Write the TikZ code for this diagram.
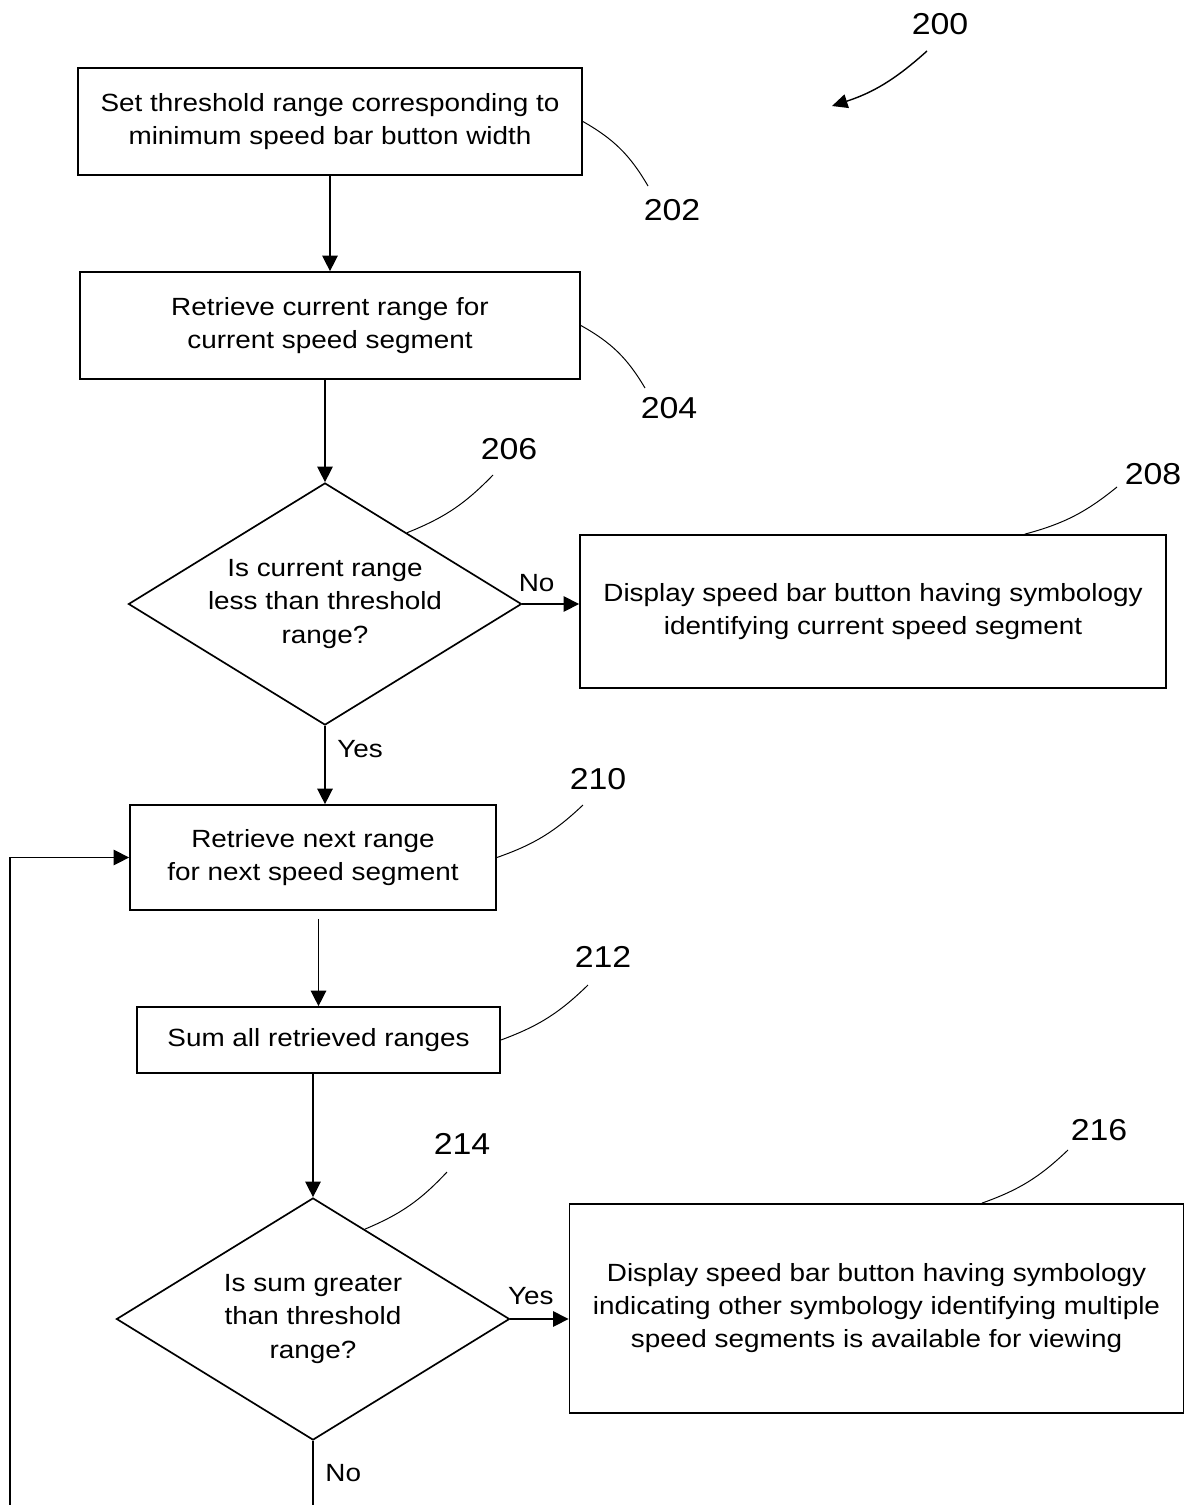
\documentclass[tikz,border=0pt]{standalone}
\usepackage{fontspec}
\setmainfont{Liberation Sans}[FakeStretch=1.12]
\usetikzlibrary{shapes.geometric,arrows.meta}

\begin{document}
\begin{tikzpicture}[%
          x=0.025cm, y=-0.025cm,
          every node/.style={font=\fontsize{17.7}{23.5}\selectfont},
          stepbox/.style={draw, line width=1.2pt, align=center, inner sep=0pt},
          decision/.style={draw, diamond, line width=1.2pt, align=center, inner sep=0pt,
            aspect=1.62, minimum width=9.825cm, minimum height=6.05cm},
          refnum/.style={font=\fontsize{21.5}{21.5}\selectfont},
          flow/.style={line width=1pt, -{Triangle[length=11pt,width=11pt]}},
          leader/.style={line width=0.7pt}]
  \useasboundingbox (0,0) rectangle (1186,1505);
  \node[stepbox, minimum width=12.6cm, minimum height=2.675cm] (b202) at (330,121.5)
    {Set threshold range corresponding to\\minimum speed bar button width};
  \node[stepbox, minimum width=12.5cm, minimum height=2.675cm] (b204) at (330,325.5)
    {Retrieve current range for\\current speed segment};
  \node[decision] (d206) at (325,604) {Is current range\\less than threshold\\range?};
  \node[stepbox, minimum width=14.65cm, minimum height=3.825cm] (b208) at (873,611.5)
    {Display speed bar button having symbology\\identifying current speed segment};
  \node[stepbox, minimum width=9.15cm, minimum height=2.625cm] (b210) at (313,857.5)
    {Retrieve next range\\for next speed segment};
  \node[stepbox, minimum width=9.075cm, minimum height=1.65cm] (b212) at (318.5,1040)
    {Sum all retrieved ranges};
  \node[decision] (d214) at (313,1319) {Is sum greater\\than threshold\\range?};
  \node[stepbox, minimum width=15.35cm, minimum height=5.225cm] (b216) at (876.5,1308.5)
    {Display speed bar button having symbology\\indicating other symbology identifying multiple\\speed segments is available for viewing};
  \coordinate (ret) at (10,1505);

  \draw[flow] (b202.south) -- (b204.north);
  \draw[flow] (d206.north |- b204.south) -- (d206.north);
  \draw[flow] (d206.east) -- node[above=5pt, pos=0.25] {No} (d206.east -| b208.west);
  \draw[flow] (d206.south) -- node[right=5pt, pos=0.3] {Yes} (d206.south |- b210.north);
  \draw[flow, shorten <=0.2cm] (b212.north |- b210.south) -- (b212.north);
  \draw[flow] (d214.north |- b212.south) -- (d214.north);
  \draw[flow] (d214.east) -- node[above=6pt, pos=0.35] {Yes} (d214.east -| b216.west);
  \draw[line width=1pt] (d214.south) -- node[right=5pt] {No} (d214.south |- ret);
  \draw[flow] (ret) |- (b210.west);

  \node[refnum] (l200) at (940,24) {200};
  \node[refnum] (l202) at (672,210) {202};
  \node[refnum] (l204) at (669,408) {204};
  \node[refnum] (l206) at (509,449) {206};
  \node[refnum] (l208) at (1153,474) {208};
  \node[refnum] (l210) at (598,779) {210};
  \node[refnum] (l212) at (603,957) {212};
  \node[refnum] (l214) at (462,1144) {214};
  \node[refnum] (l216) at (1099,1130) {216};
  \coordinate (e200) at (927,51);
  \coordinate (t200) at (832,106);
  \coordinate (e202) at (648,186);
  \coordinate (e204) at (645,388);
  \coordinate (e206) at (493,475);
  \coordinate (e208) at (1117,487);
  \coordinate (e210) at (583,805);
  \coordinate (e212) at (588,985);
  \coordinate (e214) at (447,1172);
  \coordinate (e216) at (1068,1150);

  \draw[leader, line width=1pt, -{Triangle[length=11pt,width=10pt]}] (e200) to[bend left=12] (t200);
  \draw[leader] (b202.east) to[bend left=15] (e202);
  \draw[leader] (b204.east) to[bend left=15] (e204);
  \draw[leader] (d206.41) to[bend right=12] (e206);
  \draw[leader] (b208.27) to[bend right=12] (e208);
  \draw[leader] (b210.east) to[bend right=12] (e210);
  \draw[leader] (b212.east) to[bend right=12] (e212);
  \draw[leader] (d214.60) to[bend right=12] (e214);
  \draw[leader] (b216.45) to[bend right=12] (e216);
\end{tikzpicture}
\end{document}
